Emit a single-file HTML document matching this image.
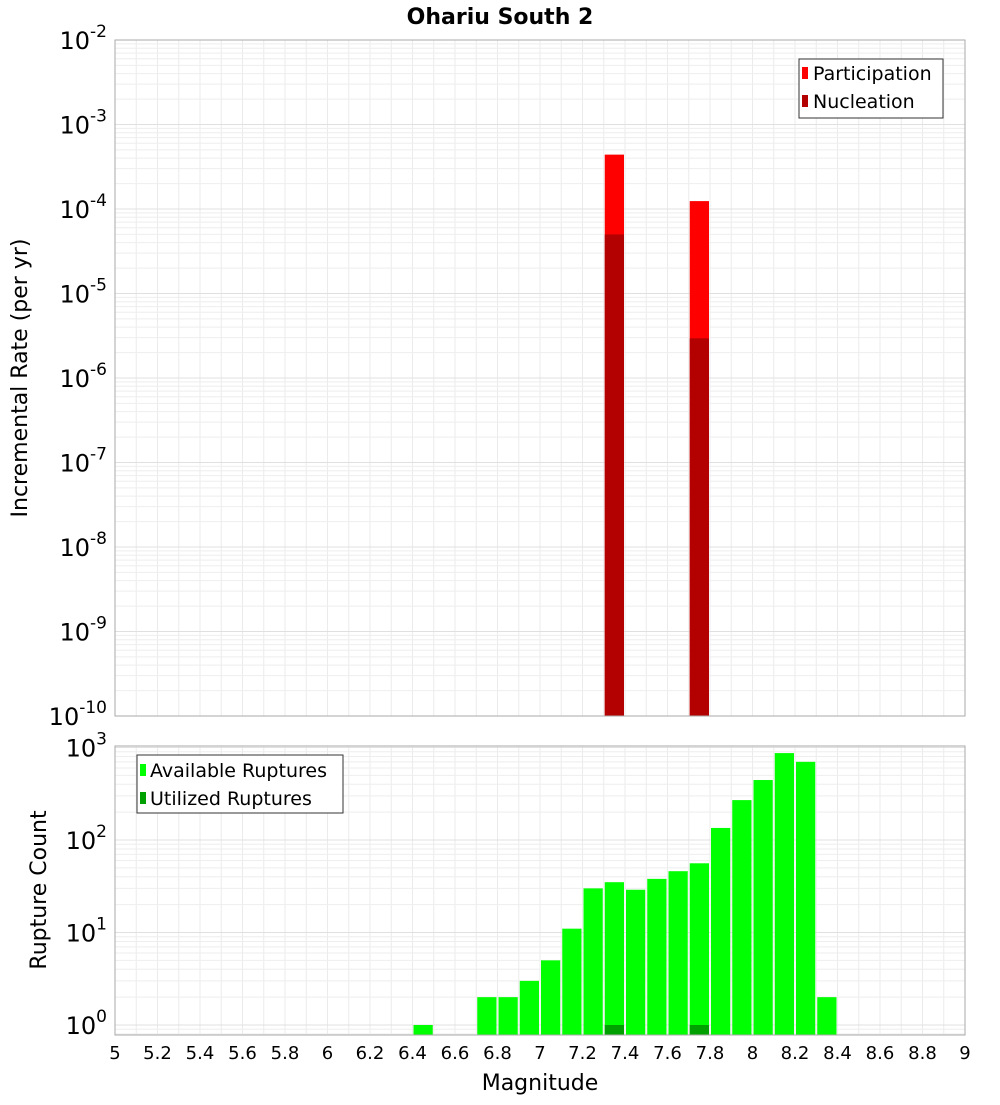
<!DOCTYPE html>
<html><head><meta charset="utf-8"><style>
body{margin:0;background:#fff;font-family:"Liberation Sans","DejaVu Sans",sans-serif}
svg text{font-family:"DejaVu Sans","Liberation Sans",sans-serif}
</style></head><body>
<svg id="chart" width="1000" height="1100" xmlns="http://www.w3.org/2000/svg">
<rect width="1000" height="1100" fill="#fff"/>
<text x="500" y="24" text-anchor="middle" font-size="22" font-weight="bold">Ohariu South 2</text>
<g id="topG"></g><g id="botG"></g>
<text transform="translate(27,378) rotate(-90)" text-anchor="middle" font-size="22">Incremental Rate (per yr)</text>
<text transform="translate(46,890) rotate(-90)" text-anchor="middle" font-size="22">Rupture Count</text>
<text x="540" y="1090" text-anchor="middle" font-size="22">Magnitude</text>
<g>
<rect x="799" y="59" width="144" height="59" fill="#fff" stroke="#333"/>
<rect x="802" y="67" width="6" height="12" fill="#ff0000"/>
<text x="813" y="80" font-size="19">Participation</text>
<rect x="802" y="95" width="6" height="12" fill="#b30000"/>
<text x="813" y="108" font-size="19">Nucleation</text>
</g>
<g>
<rect x="137" y="755" width="206" height="58" fill="#fff" stroke="#333"/>
<rect x="140" y="764" width="6" height="12" fill="#00ff00"/>
<text x="150" y="777" font-size="19">Available Ruptures</text>
<rect x="140" y="792" width="6" height="12" fill="#00a000"/>
<text x="150" y="805" font-size="19">Utilized Ruptures</text>
</g>
</svg>
<script>
const topBins=[7.3,7.7];
const participation=[4.4e-4,1.24e-4];
const nucleation=[5.0e-5,2.95e-6];
const botBins=[6.4,6.7,6.8,6.9,7.0,7.1,7.2,7.3,7.4,7.5,7.6,7.7,7.8,7.9,8.0,8.1,8.2,8.3];
const available=[1,2,2,3,5,11,30,35,29,38,46,56,135,270,445,870,700,2];
const utilBins=[7.3,7.7];
const utilized=[1,1];
const xTicks=[5,5.2,5.4,5.6,5.8,6,6.2,6.4,6.6,6.8,7,7.2,7.4,7.6,7.8,8,8.2,8.4,8.6,8.8,9];
const topExp=[-2,-3,-4,-5,-6,-7,-8,-9,-10];
const botExp=[3,2,1,0];

const NS="http://www.w3.org/2000/svg";
const X0=115,X1=965;
const xs=v=>X0+(v-5)/4*(X1-X0);
const T0=40,T1=716;
const yT=v=>T0+(-2-Math.log10(v))*(T1-T0)/8;
const B0=746,B1=1035;
const yB=v=>1025-Math.log10(v)*92.5;
function mk(p,tag,a){const e=document.createElementNS(NS,tag);for(const k in a)e.setAttribute(k,a[k]);p.appendChild(e);return e;}
const topG=document.getElementById('topG'),botG=document.getElementById('botG');
function grid(g,y0,y1,yf,minE,maxE){
 for(let i=0;i<=40;i++){const v=5+i*0.1;const l=mk(g,'line',{x1:xs(v),x2:xs(v),y1:y0,y2:y1,stroke:'#ebebeb'});
 }
 for(let e=minE;e<=maxE;e++)for(let m=1;m<10;m++){const yy=yf(m*Math.pow(10,e));if(yy<y0||yy>y1)continue;
 const l=mk(g,'line',{x1:X0,x2:X1,y1:yy,y2:yy,stroke:m==1?'#e0e0e0':'#eeeeee'});
 }
}
grid(topG,T0,T1,yT,-10,-3);
grid(botG,B0,B1,yB,-1,3);
const w=(X1-X0)/40;
topBins.forEach((b,i)=>{
 let r=mk(topG,'rect',{x:xs(b)+1,width:w-2,y:yT(participation[i]),height:T1-yT(participation[i]),fill:'#ff0000'});
 
 r=mk(topG,'rect',{x:xs(b)+1,width:w-2,y:yT(nucleation[i]),height:T1-yT(nucleation[i]),fill:'#b30000'});
 
});
botBins.forEach((b,i)=>{
 const r=mk(botG,'rect',{x:xs(b)+1,width:w-2,y:yB(available[i]),height:B1-yB(available[i]),fill:'#00ff00'});
 
});
utilBins.forEach((b,i)=>{
 const r=mk(botG,'rect',{x:xs(b)+1,width:w-2,y:yB(utilized[i]),height:B1-yB(utilized[i]),fill:'#00a000'});
 
});
let f=mk(topG,'rect',{x:X0,y:T0,width:X1-X0,height:T1-T0,fill:'none',stroke:'#aaa'});

f=mk(botG,'rect',{x:X0,y:B0,width:X1-X0,height:B1-B0,fill:'none',stroke:'#aaa'});

function expLabel(g,yy,e,name){
 const t=mk(g,'text',{x:107,y:yy+9,'text-anchor':'end','font-size':24});
 
 const a=document.createElementNS(NS,'tspan');a.textContent='10';t.appendChild(a);
 const s=document.createElementNS(NS,'tspan');s.setAttribute('dy','-12');s.setAttribute('font-size','17');s.textContent=e;t.appendChild(s);
}
topExp.forEach(e=>expLabel(topG,yT(Math.pow(10,e)),e,'top-y-tick-label'));
botExp.forEach(e=>expLabel(botG,yB(Math.pow(10,e)),e,'bottom-y-tick-label'));
xTicks.forEach(v=>{
 const t=mk(botG,'text',{x:xs(v),y:1059,'text-anchor':'middle','font-size':18});
 t.textContent=String(v);
 
});
</script>
</body></html>
